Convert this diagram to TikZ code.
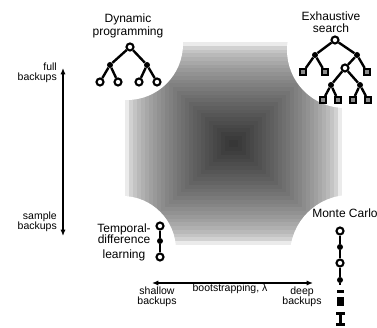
\documentclass[tikz,border=0pt]{standalone}
\usepackage{fontspec}
\setmainfont{Liberation Sans}
\usetikzlibrary{arrows.meta}
\tikzset{
  state/.style ={circle, draw, line width=2.1pt, fill=white, inner sep=0pt, minimum size=7pt},
  act/.style   ={circle, fill, inner sep=0pt, minimum size=6pt},
  leafsq/.style={rectangle, draw, line width=2pt, fill=black!45, inner sep=0pt, minimum size=6pt},
  branch/.style={line width=2.4pt},
  dimaxis/.style={{Latex[length=2.2mm,width=1.8mm]}-{Latex[length=2.2mm,width=1.8mm]}, line width=2.2pt},
  bigtext/.style={font=\fontsize{12}{12.5}\selectfont, align=center, inner sep=0pt},
  smalltext/.style={font=\fontsize{10.5}{10}\selectfont, align=center, inner sep=0pt},
}

\begin{document}
\begin{tikzpicture}[x=1pt,y=-1pt]
  \useasboundingbox (0,0) rectangle (377,328);
  % shaded square, dark in the middle
  \foreach \i in {0,...,26}{
    \pgfmathsetmacro\f{\i/27}
    \pgfmathsetmacro\p{8+72*(\f^0.6)}
    \fill[black!\p!white] (125+108.5*\f,42+101.5*\f) rectangle (342-108.5*\f,245-101.5*\f);
  }
  % corners cut away
  \fill[white] (127,44) circle (56pt);
  \fill[white] (345,50) circle (58pt);
  \fill[white] (122,250) circle (54pt);
  \fill[white] (350,255) circle (60pt);

  % dynamic programming
  \node[bigtext] (dptxt) at (128,26) {Dynamic\\programming};
  \node[state] (d0) at (130,47) {};
  \node[act] (d1) at (110,65) {};
  \node[act] (d2) at (147,65) {};
  \node[state] (d11) at (100,82) {};
  \node[state] (d12) at (118,82) {};
  \node[state] (d21) at (139,82) {};
  \node[state] (d22) at (157,82) {};
  \draw[branch] (d0) -- (d1) (d0) -- (d2);
  \draw[branch] (d1) -- (d11) (d1) -- (d12) (d2) -- (d21) (d2) -- (d22);

  % exhaustive search
  \node[bigtext] (estxt) at (331,22) {Exhaustive\\search};
  \node[state] (e0) at (335,40) {};
  \node[act] (e1) at (315,55) {};
  \node[act] (e2) at (357,55) {};
  \node[leafsq] (e11) at (303,72) {};
  \node[leafsq] (e12) at (325,72) {};
  \node[state] (e21) at (345,68) {};
  \node[leafsq] (e22) at (367,72) {};
  \node[act] (e3) at (331,85) {};
  \node[act] (e4) at (360,85) {};
  \node[leafsq] (e31) at (323,100) {};
  \node[leafsq] (e32) at (338,100) {};
  \node[leafsq] (e41) at (353,100) {};
  \node[leafsq] (e42) at (368,100) {};
  \draw[branch] (e0) -- (e1) (e0) -- (e2);
  \draw[branch] (e1) -- (e11) (e1) -- (e12) (e2) -- (e21) (e2) -- (e22);
  \draw[branch] (e21) -- (e3) (e21) -- (e4);
  \draw[branch] (e3) -- (e31) (e3) -- (e32) (e4) -- (e41) (e4) -- (e42);

  % temporal-difference
  \node[bigtext] (tdtxt) at (124,242) {Temporal-\\[-1pt]difference\\[2pt]learning};
  \node[state] (t0) at (160,226) {};
  \node[act] (t1) at (160,241) {};
  \node[state] (t2) at (160,257) {};
  \draw[branch] (t0) -- (t1) -- (t2);

  % monte carlo
  \node[bigtext] (mctxt) at (345,213) {Monte Carlo};
  \node[state] (m0) at (340,231) {};
  \node[act] (m1) at (340,247) {};
  \node[state] (m2) at (340,263) {};
  \node[act] (m3) at (340,280) {};
  \coordinate (m4) at (340,285);
  \draw[branch] (m0) -- (m1) -- (m2) -- (m3) -- (m4);
  \fill (336.5,290.5) rectangle (344,293.5);
  \fill (337,297) rectangle (344,306);
  \draw[line width=2.4pt] (340.5,313) -- (340.5,325);
  \draw[line width=2.4pt] (336,313.5) -- (345,313.5) (336,324.5) -- (345,324.5);

  % the two axes
  \coordinate (vtop) at (63,68);
  \coordinate (vbot) at (63,236);
  \draw[dimaxis] (vtop) -- (vbot);
  \node[smalltext, align=right, anchor=east] (fulltxt) at (57,73) {full\\backups};
  \node[smalltext, align=right, anchor=east] (samptxt) at (57,222) {sample\\backups};

  \coordinate (hleft) at (152,283);
  \coordinate (hright) at (313,283);
  \draw[dimaxis] (hleft) -- (hright);
  \node[smalltext] (bootxt) at (230,289) {bootstrapping, λ};
  \node[smalltext] (shtxt) at (157,297) {shallow\\backups};
  \node[smalltext] (dptxt2) at (302,297) {deep\\backups};
\end{tikzpicture}
\end{document}
